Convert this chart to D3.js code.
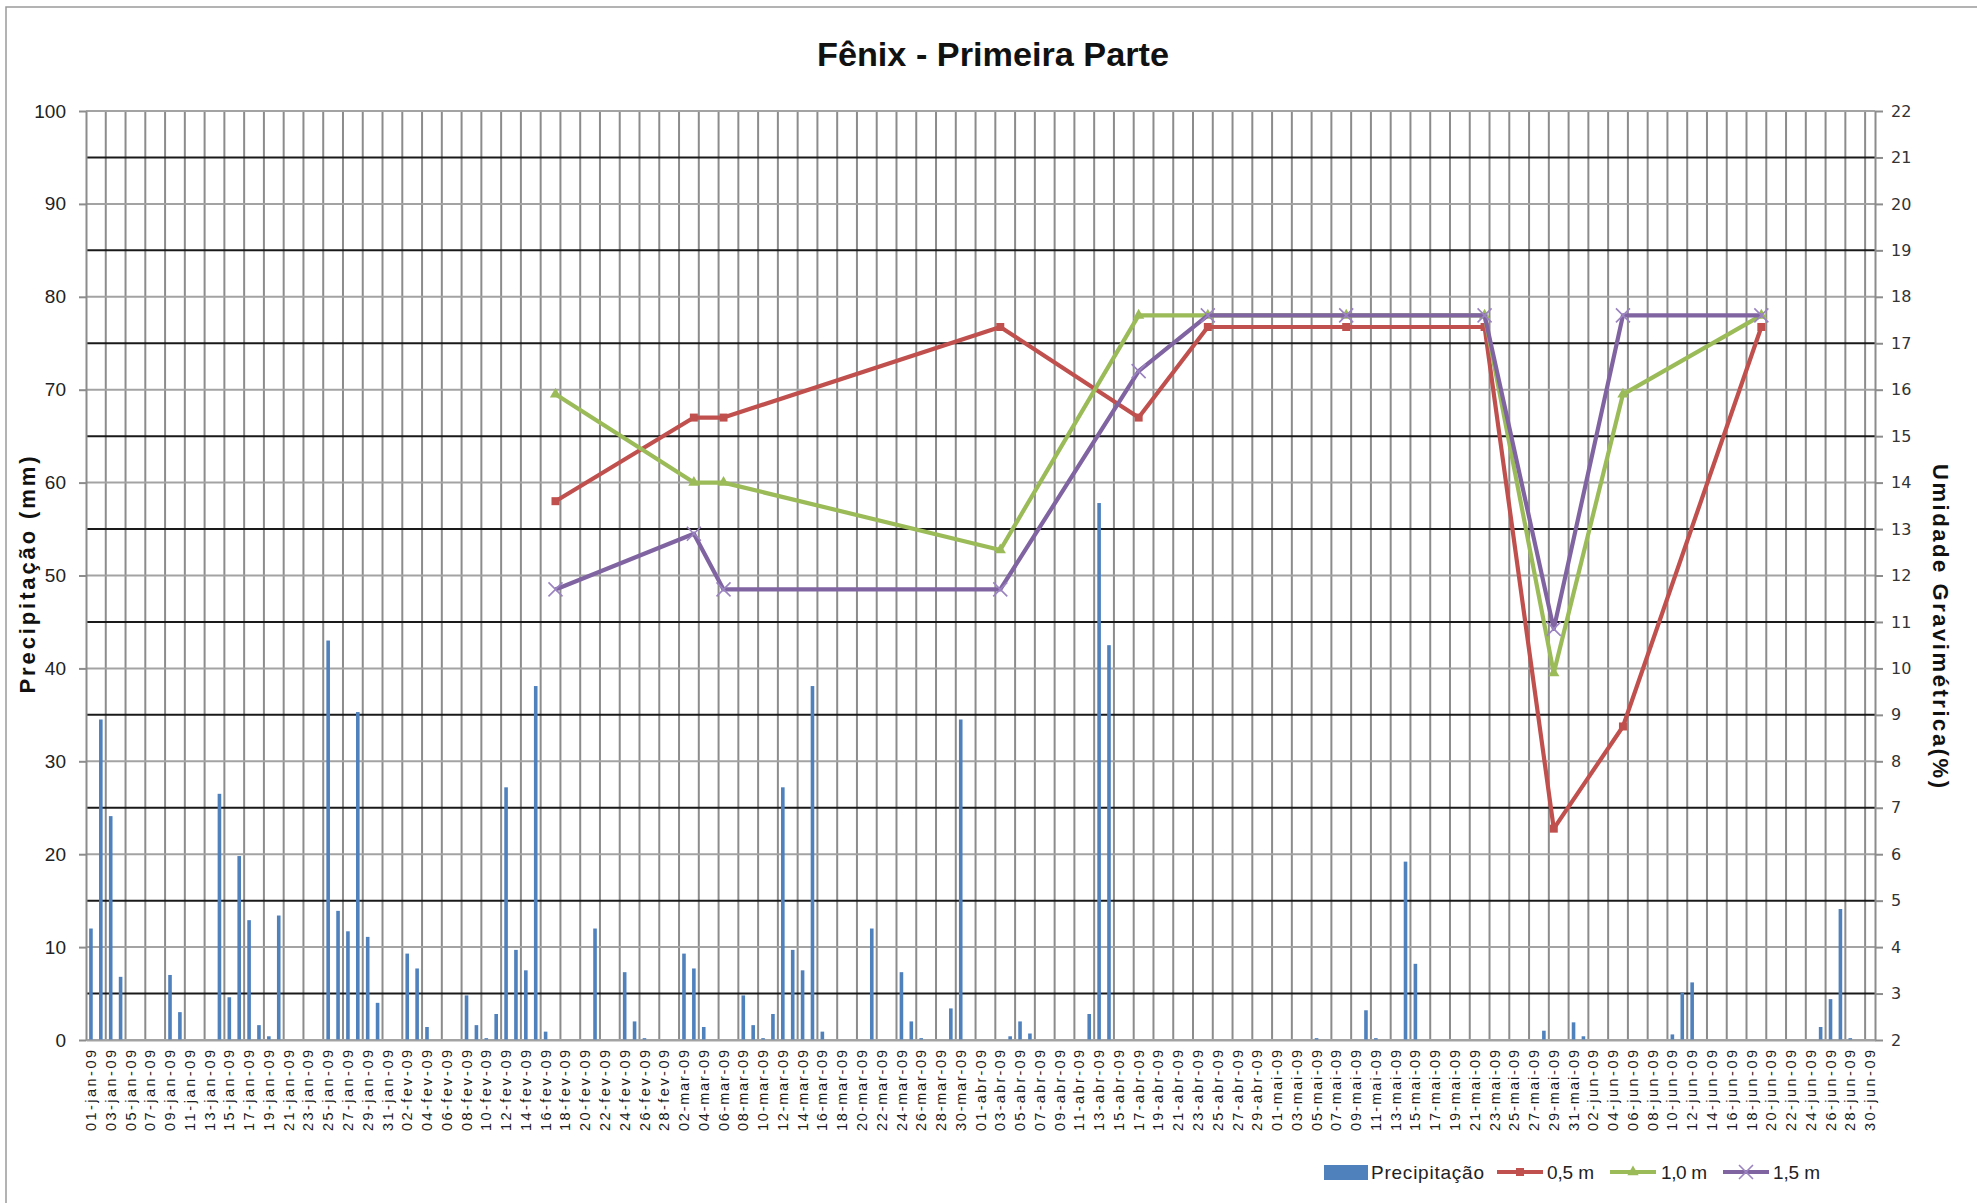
<!DOCTYPE html>
<html>
<head>
<meta charset="utf-8">
<script src="https://cdn.jsdelivr.net/npm/d3@7"></script>
<style>
  body { margin: 0; background: #fff; }
  svg { display: block; }
</style>
</head>
<body>
<svg id="chart" width="1977" height="1203"></svg>
<script>
// ---- categories: one per day, 01-jan-09 .. 30-jun-09 ----
const months = ["jan", "fev", "mar", "abr", "mai", "jun"];
const monthDays = [31, 28, 31, 30, 31, 30];
const yearSuffix = "09";

// ---- daily precipitation (mm); days with no rain are left out ----
const rainDates = [
  "01-jan-09","02-jan-09","03-jan-09","04-jan-09","09-jan-09","10-jan-09",
  "14-jan-09","15-jan-09","16-jan-09","17-jan-09","18-jan-09","19-jan-09","20-jan-09",
  "25-jan-09","26-jan-09","27-jan-09","28-jan-09","29-jan-09","30-jan-09",
  "02-fev-09","03-fev-09","04-fev-09","08-fev-09","09-fev-09","10-fev-09","11-fev-09",
  "12-fev-09","13-fev-09","14-fev-09","15-fev-09","16-fev-09","21-fev-09",
  "24-fev-09","25-fev-09","26-fev-09",
  "02-mar-09","03-mar-09","04-mar-09","08-mar-09","09-mar-09","10-mar-09","11-mar-09",
  "12-mar-09","13-mar-09","14-mar-09","15-mar-09","16-mar-09","21-mar-09",
  "24-mar-09","25-mar-09","26-mar-09","29-mar-09","30-mar-09",
  "04-abr-09","05-abr-09","06-abr-09","12-abr-09","13-abr-09","14-abr-09",
  "05-mai-09","10-mai-09","11-mai-09","14-mai-09","15-mai-09","28-mai-09","31-mai-09",
  "01-jun-09","10-jun-09","11-jun-09","12-jun-09","25-jun-09","26-jun-09","27-jun-09","28-jun-09"
];
const rainMm = [
  12.0, 34.5, 24.1, 6.8, 7.0, 3.0,
  26.5, 4.6, 19.8, 12.9, 1.6, 0.4, 13.4,
  43.0, 13.9, 11.7, 35.3, 11.1, 4.0,
  9.3, 7.7, 1.4, 4.8, 1.6, 0.2, 2.8,
  27.2, 9.7, 7.5, 38.1, 0.9, 12.0,
  7.3, 2.0, 0.2,
  9.3, 7.7, 1.4, 4.8, 1.6, 0.2, 2.8,
  27.2, 9.7, 7.5, 38.1, 0.9, 12.0,
  7.3, 2.0, 0.2, 3.4, 34.5,
  0.4, 2.0, 0.7, 2.8, 57.8, 42.5,
  0.2, 3.2, 0.2, 19.2, 8.2, 1.0, 1.9,
  0.4, 0.6, 5.1, 6.2, 1.4, 4.4, 14.1, 0.2
];

// ---- gravimetric moisture (%) at three depths ----
const sampleDates = ["17-fev-09","03-mar-09","06-mar-09","03-abr-09","17-abr-09",
  "24-abr-09","08-mai-09","22-mai-09","29-mai-09","05-jun-09","19-jun-09"];
const moist05 = [13.6, 15.4, 15.4, 17.35, 15.4, 17.35, 17.35, 17.35, 6.55, 8.75, 17.35];
const moist10 = [15.9, 14.0, 14.0, 12.55, 17.6, 17.6, 17.6, 17.6, 9.9, 15.9, 17.6];
const moist15 = [11.7, 12.9, 11.7, 11.7, 16.4, 17.6, 17.6, 17.6, 10.85, 17.6, 17.6];

// ---- axis ticks ----
const leftTicks = [0, 10, 20, 30, 40, 50, 60, 70, 80, 90, 100];
const rightTicks = [2, 3, 4, 5, 6, 7, 8, 9, 10, 11, 12, 13, 14, 15, 16, 17, 18, 19, 20, 21, 22];
const rightMajorGrid = [3, 5, 7, 9, 11, 13, 15, 17, 19, 21];

// ---- build category list ----
const pad2 = n => (n < 10 ? "0" : "") + n;
const categories = [];
months.forEach((m, i) => {
  for (let d = 1; d <= monthDays[i]; d++) categories.push(pad2(d) + "-" + m + "-" + yearSuffix);
});

const colors = { rain: "#4f81bd", m05: "#c0504d", m10: "#9bbb59", m15: "#8064a2" };

const svg = d3.select("#chart");
const plot = { left: 86, right: 1875, top: 111, bottom: 1040 };

const x = d3.scaleBand().domain(categories).range([plot.left, plot.right]).padding(0);
const bw = x.bandwidth();
const yL = d3.scaleLinear().domain([0, 100]).range([plot.bottom, plot.top]);
const yR = d3.scaleLinear().domain([2, 22]).range([plot.bottom, plot.top]);

// outer frame
svg.append("path")
  .attr("d", "M6,1203V7H1977")
  .attr("fill", "none").attr("stroke", "#9a9a9a").attr("stroke-width", 1.5);

// title
svg.append("text")
  .attr("x", 993).attr("y", 66)
  .attr("text-anchor", "middle")
  .attr("font-family", "Liberation Sans, Arial, sans-serif")
  .attr("font-weight", "bold").attr("font-size", 34)
  .attr("textLength", 352).attr("lengthAdjust", "spacingAndGlyphs")
  .attr("fill", "#111")
  .text("Fênix - Primeira Parte");

// ---- gridlines ----
const grid = svg.append("g");
// vertical lines every second day
grid.selectAll("line.v")
  .data(categories.filter((c, i) => i % 2 === 0 && i > 0))
  .join("line").attr("class", "v")
  .attr("x1", d => x(d)).attr("x2", d => x(d))
  .attr("y1", plot.top).attr("y2", plot.bottom)
  .attr("stroke", "#8c8c8c").attr("stroke-width", 2);
// light horizontal lines on the precipitation scale
grid.selectAll("line.hl")
  .data(leftTicks)
  .join("line").attr("class", "hl")
  .attr("x1", plot.left).attr("x2", plot.right)
  .attr("y1", d => yL(d)).attr("y2", d => yL(d))
  .attr("stroke", "#a3a3a3").attr("stroke-width", 2);
// dark horizontal lines on the moisture scale
grid.selectAll("line.hr")
  .data(rightMajorGrid)
  .join("line").attr("class", "hr")
  .attr("x1", plot.left).attr("x2", plot.right)
  .attr("y1", d => yR(d)).attr("y2", d => yR(d))
  .attr("stroke", "#1a1a1a").attr("stroke-width", 2);

// ---- precipitation bars ----
const barW = 3.6;
svg.append("g").selectAll("rect")
  .data(rainDates.map((d, i) => ({ date: d, v: rainMm[i] })))
  .join("rect")
  .attr("x", d => x(d.date) + (bw - barW) / 2)
  .attr("width", barW)
  .attr("y", d => yL(d.v))
  .attr("height", d => yL(0) - yL(d.v))
  .attr("fill", colors.rain);

// ---- axes ----
const axL = svg.append("g")
  .attr("transform", `translate(${plot.left},0)`)
  .call(d3.axisLeft(yL).tickValues(leftTicks).tickSize(7).tickPadding(13).tickSizeOuter(0));
axL.select(".domain").attr("stroke", "#8c8c8c").attr("stroke-width", 2);
axL.selectAll(".tick line").attr("stroke", "#8c8c8c").attr("stroke-width", 2);
axL.selectAll(".tick text")
  .attr("font-family", "Liberation Sans, Arial, sans-serif")
  .attr("font-size", 19).attr("fill", "#222");

const axR = svg.append("g")
  .attr("transform", `translate(${plot.right},0)`)
  .call(d3.axisRight(yR).tickValues(rightTicks).tickSize(8).tickPadding(8).tickSizeOuter(0));
axR.select(".domain").attr("stroke", "#8c8c8c").attr("stroke-width", 2);
axR.selectAll(".tick line").attr("stroke", "#8c8c8c").attr("stroke-width", 2);
axR.selectAll(".tick text")
  .attr("font-family", "DejaVu Sans, sans-serif")
  .attr("font-size", 16).attr("fill", "#333");

// bottom axis: date labels every second day
const axB = svg.append("g")
  .attr("transform", `translate(0,${plot.bottom})`)
  .call(d3.axisBottom(x)
    .tickValues(categories.filter((c, i) => i % 2 === 0))
    .tickSize(0).tickPadding(0).tickSizeOuter(0));
axB.select(".domain").attr("stroke", "#a3a3a3").attr("stroke-width", 2);
axB.selectAll(".tick text")
  .attr("transform", "translate(0,10) rotate(-90)")
  .attr("text-anchor", "end")
  .attr("dy", "0.35em").attr("y", 0).attr("x", 0)
  .attr("font-family", "Liberation Sans, Arial, sans-serif")
  .attr("font-size", 14.5).attr("fill", "#1a1a1a")
  .attr("textLength", 81).attr("lengthAdjust", "spacing");

// axis titles
svg.append("text")
  .attr("transform", "translate(27,575) rotate(-90)")
  .attr("text-anchor", "middle").attr("dominant-baseline", "central")
  .attr("font-family", "Liberation Sans, Arial, sans-serif")
  .attr("font-weight", "bold").attr("font-size", 22)
  .attr("textLength", 237).attr("lengthAdjust", "spacing")
  .attr("fill", "#111")
  .text("Precipitação (mm)");

svg.append("text")
  .attr("transform", "translate(1940,626) rotate(90)")
  .attr("text-anchor", "middle").attr("dominant-baseline", "central")
  .attr("font-family", "Liberation Sans, Arial, sans-serif")
  .attr("font-weight", "bold").attr("font-size", 22)
  .attr("textLength", 324).attr("lengthAdjust", "spacing")
  .attr("fill", "#111")
  .text("Umidade  Gravimétrica(%)");

// ---- moisture lines ----
const series = [
  { key: "m05", name: "0,5 m", values: moist05, marker: "square" },
  { key: "m10", name: "1,0 m", values: moist10, marker: "triangle" },
  { key: "m15", name: "1,5 m", values: moist15, marker: "cross" }
];
const line = d3.line().x(d => x(d.date) + bw / 2).y(d => yR(d.v));

function drawMarker(g, type, color) {
  if (type === "square") {
    g.append("rect").attr("x", -4).attr("y", -4).attr("width", 8).attr("height", 8).attr("fill", color);
  } else if (type === "triangle") {
    g.append("path").attr("d", d3.symbol(d3.symbolTriangle, 55)()).attr("fill", color);
  } else {
    g.append("path").attr("d", "M-7,-7L7,7M-7,7L7,-7")
      .attr("stroke", "#9a83c0").attr("stroke-width", 1.6).attr("fill", "none");
  }
}

series.forEach(s => {
  const pts = sampleDates.map((d, i) => ({ date: d, v: s.values[i] }));
  const g = svg.append("g");
  g.append("path").datum(pts).attr("d", line)
    .attr("fill", "none").attr("stroke", colors[s.key])
    .attr("stroke-width", 4.2).attr("stroke-linejoin", "round");
  pts.forEach(p => {
    const mg = g.append("g").attr("transform", `translate(${x(p.date) + bw / 2},${yR(p.v)})`);
    drawMarker(mg, s.marker, colors[s.key]);
  });
});

// ---- legend ----
const legend = svg.append("g").attr("font-family", "Liberation Sans, Arial, sans-serif").attr("font-size", 19).attr("fill", "#222");
legend.append("rect").attr("x", 1324).attr("y", 1165).attr("width", 44).attr("height", 15).attr("fill", colors.rain);
legend.append("text").attr("x", 1371).attr("y", 1179).attr("textLength", 113).attr("lengthAdjust", "spacing").text("Precipitação");
const legendItems = [
  { s: series[0], x0: 1497, tx: 1547, tl: 47 },
  { s: series[1], x0: 1610, tx: 1661, tl: 46 },
  { s: series[2], x0: 1723, tx: 1773, tl: 47 }
];
legendItems.forEach(it => {
  legend.append("line").attr("x1", it.x0).attr("x2", it.x0 + 46)
    .attr("y1", 1172).attr("y2", 1172)
    .attr("stroke", colors[it.s.key]).attr("stroke-width", 4);
  const mg = legend.append("g").attr("transform", `translate(${it.x0 + 23},1172)`);
  drawMarker(mg, it.s.marker, colors[it.s.key]);
  legend.append("text").attr("x", it.tx).attr("y", 1179)
    .attr("textLength", it.tl).attr("lengthAdjust", "spacing").text(it.s.name);
});
</script>
</body>
</html>
